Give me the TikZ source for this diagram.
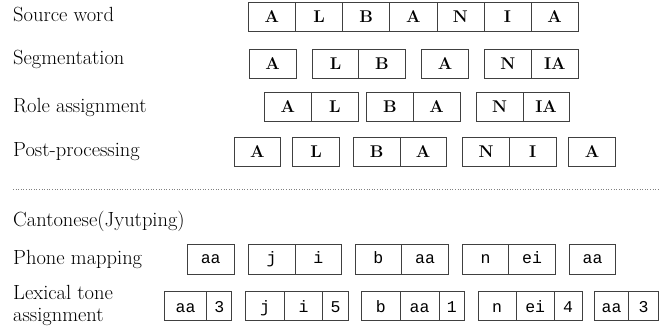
\documentclass[tikz,border=0pt]{standalone}
\usepackage{fontspec}
\newfontfamily\cellmono{Liberation Mono}
\newcommand{\cellat}[6]{\node[cell, anchor=north west, minimum width={#3pt-#2pt}, minimum height={#5pt-#4pt}] (#1) at (#2,#4) {#6};}
\begin{document}
\begin{tikzpicture}[x=1pt,y=-1pt,
  cell/.style={draw=black!75, line width=0.8pt, inner sep=0pt, outer sep=0pt, font=\fontsize{17}{18}\selectfont\bfseries, text height=12.5pt, text depth=0pt},
  lab/.style={anchor=base west, inner sep=0pt, font=\fontsize{20.5}{22}\selectfont},
  sep/.style={draw=black!50, line width=0.6pt, dotted}]
\useasboundingbox (0,0) rectangle (672,331);
% labels
\node[lab] (l1) at (13,21.5) {Source word};
\node[lab] (l2) at (13,65) {Segmentation};
\node[lab] (l3) at (13,112.5) {Role assignment};
\node[lab] (l4) at (13,157) {Post-processing};
\node[lab] (l5) at (13,226) {Cantonese(Jyutping)};
\node[lab] (l6) at (13,265) {Phone mapping};
\node[lab, align=left] (l7) at (13,321) {Lexical tone\\assignment};
% separator
\coordinate (sa) at (13,189);
\coordinate (sb) at (659,189);
\draw[sep] (sa) -- (sb);
% row 1
\cellat{a1}{248.3}{295.4}{2}{31}{A}
\cellat{a2}{295.4}{342.6}{2}{31}{L}
\cellat{a3}{342.6}{389.7}{2}{31}{B}
\cellat{a4}{389.7}{436.9}{2}{31}{A}
\cellat{a5}{436.9}{484.0}{2}{31}{N}
\cellat{a6}{484.0}{531.1}{2}{31}{I}
\cellat{a7}{531.1}{578.3}{2}{31}{A}
% row 2
\cellat{b1}{249.3}{296.0}{49}{78}{A}
\cellat{b2}{312.3}{358.7}{49}{78}{L}
\cellat{b3}{358.7}{405.3}{49}{78}{B}
\cellat{b4}{421.7}{468.3}{49}{78}{A}
\cellat{b5}{484.3}{531.3}{49}{78}{N}
\cellat{b6}{531.3}{578.3}{49}{78}{IA}
% row 3
\cellat{c1}{264.3}{311.3}{92.3}{121}{A}
\cellat{c2}{311.3}{358.3}{92.3}{121}{L}
\cellat{c3}{366.7}{413.3}{92.3}{121}{B}
\cellat{c4}{413.3}{460.0}{92.3}{121}{A}
\cellat{c5}{476.0}{523.0}{92.3}{121}{N}
\cellat{c6}{523.0}{569.3}{92.3}{121}{IA}
% row 4
\cellat{d1}{234.0}{280.7}{137.3}{166}{A}
\cellat{d2}{292.7}{339.3}{137.3}{166}{L}
\cellat{d3}{353.3}{400.0}{137.3}{166}{B}
\cellat{d4}{400.0}{446.3}{137.3}{166}{A}
\cellat{d5}{462.7}{509.3}{137.3}{166}{N}
\cellat{d6}{509.3}{556.3}{137.3}{166}{I}
\cellat{d7}{568.5}{615.5}{137.3}{166}{A}
% row 5: typewriter cells
\tikzset{cell/.style={draw=black!75, line width=0.8pt, inner sep=0pt, outer sep=0pt, font=\fontsize{16.5}{17}\selectfont\cellmono, text height=8pt, text depth=0pt}}
\cellat{e1}{187.3}{234.0}{244.3}{274}{aa}
\cellat{e2}{248.3}{295.0}{244.3}{274}{j}
\cellat{e3}{295.0}{341.7}{244.3}{274}{i}
\cellat{e4}{355.0}{401.7}{244.3}{274}{b}
\cellat{e5}{401.7}{448.3}{244.3}{274}{aa}
\cellat{e6}{462.3}{508.7}{244.3}{274}{n}
\cellat{e7}{508.7}{555.3}{244.3}{274}{ei}
\cellat{e8}{569.3}{615.7}{244.3}{274}{aa}
% row 6
\tikzset{cell/.style={draw=black!75, line width=0.8pt, inner sep=0pt, outer sep=0pt, font=\fontsize{16.5}{17}\selectfont\cellmono, text height=14pt, text depth=0pt}}
\cellat{f1}{164.3}{206.7}{291}{320.5}{aa}
\cellat{f2}{206.7}{231.7}{291}{320.5}{3}
\cellat{f3}{245.7}{284.3}{291}{320.5}{j}
\cellat{f4}{284.3}{322.7}{291}{320.5}{i}
\cellat{f5}{322.7}{348.3}{291}{320.5}{5}
\cellat{f6}{361.7}{400.0}{291}{320.5}{b}
\cellat{f7}{400.0}{439.0}{291}{320.5}{aa}
\cellat{f8}{439.0}{464.5}{291}{320.5}{1}
\cellat{f9}{478.0}{516.0}{291}{320.5}{n}
\cellat{f10}{516.0}{554.3}{291}{320.5}{ei}
\cellat{f11}{554.3}{582.0}{291}{320.5}{4}
\cellat{f12}{594.3}{628.7}{291}{320.5}{aa}
\cellat{f13}{628.7}{658.3}{291}{320.5}{3}
\end{tikzpicture}
\end{document}
